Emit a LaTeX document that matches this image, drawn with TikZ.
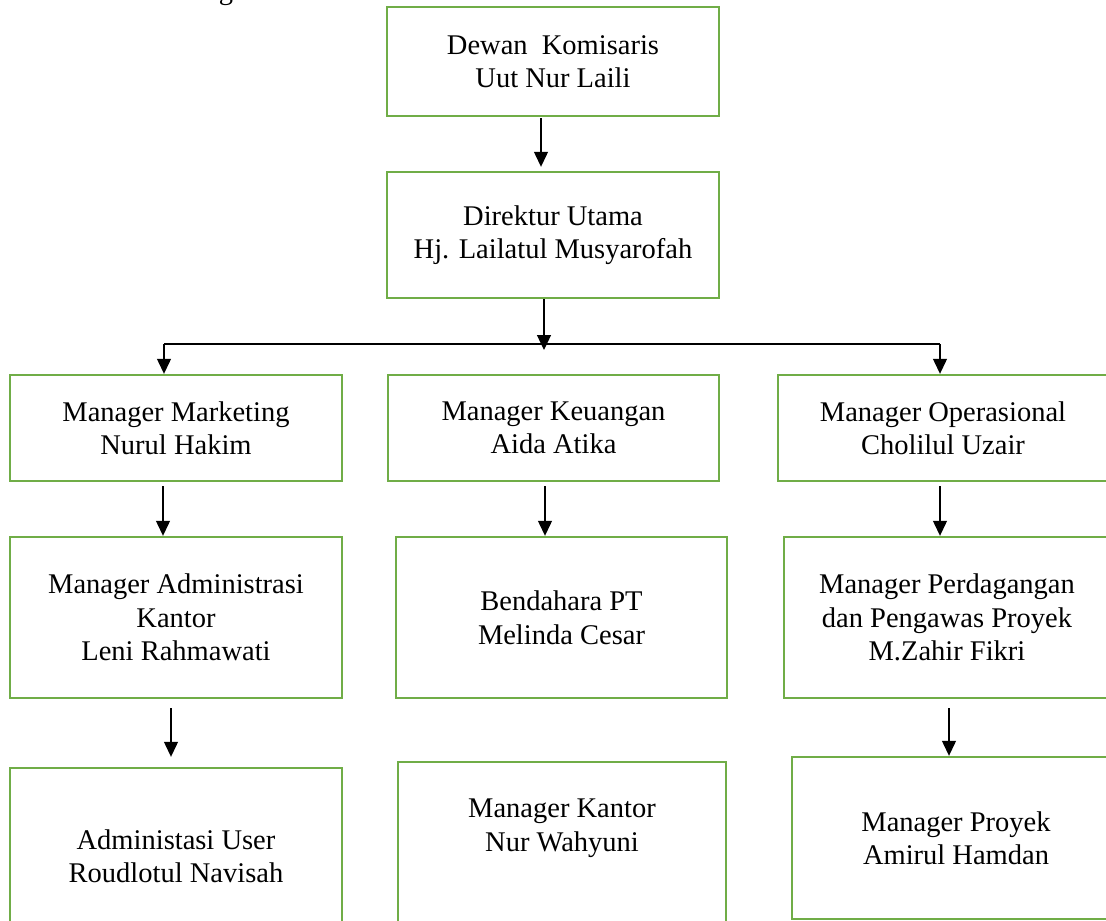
\documentclass[tikz,border=0pt]{standalone}
\usepackage{fontspec}
\setmainfont{Liberation Serif}
\usetikzlibrary{arrows.meta}
\definecolor{boxgreen}{RGB}{112,173,71}
\newcommand{\orgfont}{\fontsize{28.5}{33.5}\selectfont}

\begin{document}
\begin{tikzpicture}[x=1pt, y=-1pt, >={Triangle[length=15pt,width=14pt]},
	main/.style = {draw=boxgreen, line width=2.4pt, minimum width=332pt, inner sep=0pt, align=center, font=\orgfont},
	link/.style = {->, line width=1.2pt}]
	\useasboundingbox (0,0) rectangle (1106,921);
	\clip (0,0) rectangle (1106,921);
	\node[font=\orgfont, anchor=base, inner sep=0pt] (cap) at (226,-1) {g};
	% top
	\node[main, minimum height=109pt] (dk) at (553,61.5) {Dewan~ Komisaris\\Uut Nur Laili};
	\node[main, minimum height=126pt] (du) at (553,235) {Direktur Utama\\Hj. Lailatul Musyarofah};
	% managers
	\node[main, minimum height=106pt] (mm) at (176,428) {Manager Marketing\\Nurul Hakim};
	\node[main, minimum height=106pt, minimum width=331pt] (mk) at (553.5,428) {Manager Keuangan\\Aida Atika};
	\node[main, minimum height=106pt, minimum width=330pt] (mo) at (943,428) {Manager Operasional\\Cholilul Uzair};
	\node[main, minimum height=161pt] (ma) at (176,617.5) {Manager Administrasi\\Kantor\\Leni Rahmawati};
	\node[main, minimum height=161pt, minimum width=331pt] (bp) at (561.5,617.5) {Bendahara PT\\Melinda Cesar};
	\node[main, minimum height=161pt, minimum width=326pt] (mp) at (947,617.5) {Manager Perdagangan\\dan Pengawas Proyek\\M.Zahir Fikri};
	\node[main, minimum height=176pt] (au) at (176,856) {Administasi User\\Roudlotul Navisah};
	\node[main, minimum height=193pt, minimum width=328pt] (nk) at (562,858.5) {Manager Kantor\\Nur Wahyuni\\~\\~};
	\node[main, minimum height=162pt, minimum width=328pt] (mpy) at (956,838) {Manager Proyek\\Amirul Hamdan};
	% arrows
	\coordinate (barL) at (164,344);
	\coordinate (barR) at (940,344);
	\draw[link, shorten <=1pt, shorten >=4pt] ([xshift=-12pt]dk.south) -- ([xshift=-12pt]du.north);
	\draw[link, shorten >=-6pt] ([xshift=-9pt]du.south) -- ([xshift=-9pt]du.south |- barL);
	\draw[line width=1.2pt] (barL) -- (barR);
	\draw[link] (barL) -- (barL |- mm.north);
	\draw[link] (barR) -- (barR |- mo.north);
	\draw[link, shorten <=4pt] ([xshift=-13pt]mm.south) -- ([xshift=-13pt]mm.south |- ma.north);
	\draw[link, shorten <=4pt] ([xshift=-8.5pt]mk.south) -- ([xshift=-8.5pt]mk.south |- bp.north);
	\draw[link, shorten <=4pt] ([xshift=-3pt]mo.south) -- ([xshift=-3pt]mo.south |- mp.north);
	\draw[link, shorten <=9pt, shorten >=10pt] ([xshift=-5pt]ma.south) -- ([xshift=-5pt]ma.south |- au.north);
	\draw[link, shorten <=9pt] ([xshift=2pt]mp.south) -- ([xshift=2pt]mp.south |- mpy.north);
\end{tikzpicture}
\end{document}
